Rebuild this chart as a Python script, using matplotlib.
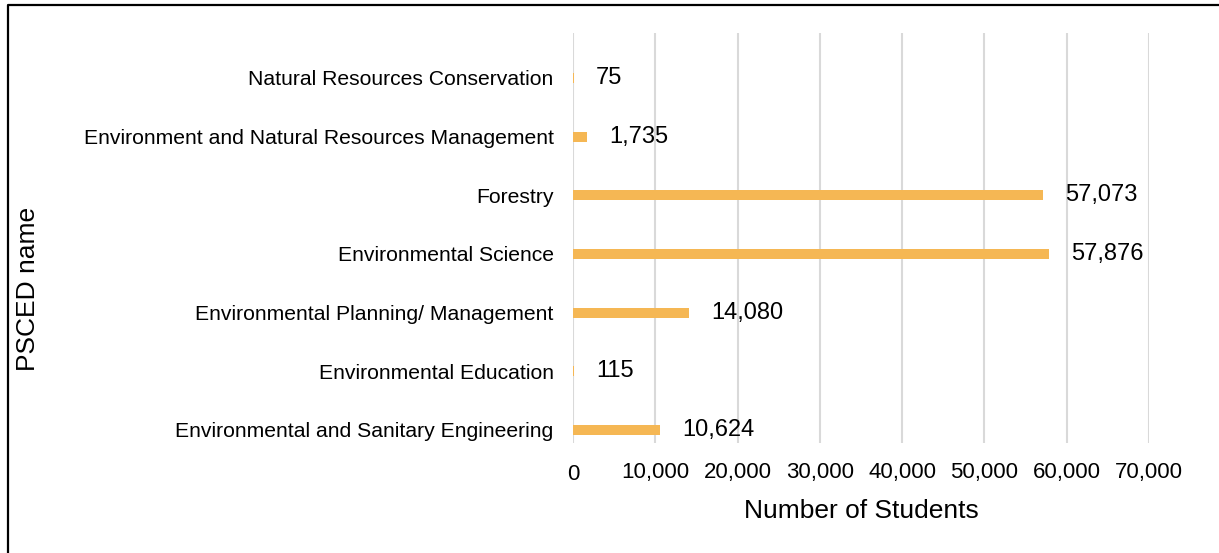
import matplotlib
matplotlib.use("Agg")
import matplotlib.pyplot as plt
from matplotlib.lines import Line2D
from matplotlib.transforms import offset_copy

plt.rcParams['font.family'] = ['Liberation Sans', 'DejaVu Sans']

categories = [
    "Environmental and Sanitary Engineering",
    "Environmental Education",
    "Environmental Planning/ Management",
    "Environmental Science",
    "Forestry",
    "Environment and Natural Resources Management",
    "Natural Resources Conservation",
]
values = [10624, 115, 14080, 57876, 57073, 1735, 75]
xticks = [0, 10000, 20000, 30000, 40000, 50000, 60000, 70000]
xtick_labels = ["0", "10,000", "20,000", "30,000", "40,000", "50,000", "60,000", "70,000"]
bar_color = "#F5B754"
grid_color = "#D9D9D9"

W, H = 1219, 553
fig = plt.figure(figsize=(W / 100, H / 100), dpi=100)
ax = fig.add_axes([573 / W, (H - 443) / H, 576 / W, 410 / H])

y = list(range(len(categories)))
ax.barh(y, values, height=0.17, color=bar_color, zorder=3)

ax.set_xlim(0, 70000)
ax.set_ylim(-0.222, 6.767)
ax.set_xticks(xticks)
ax.set_xticklabels([])
ax.tick_params(axis='x', length=0)
ax.tick_params(axis='y', length=0, pad=14, labelsize=15.2)
ax.set_yticks(y)
ax.set_yticklabels(categories)
ax.grid(axis='x', color=grid_color, linewidth=1.5, zorder=0)
for s in ['top', 'right', 'bottom', 'left']:
    ax.spines[s].set_visible(False)

# x tick labels
xtr = ax.get_xaxis_transform()
for xv, lab in zip(xticks, xtick_labels):
    yy = -0.078 if xv == 0 else -0.071
    ax.text(xv, yy, lab, transform=xtr, ha='center', va='center', fontsize=16)

# data labels
for yi, v in zip(y, values):
    t = offset_copy(ax.transData, fig=fig, x=22, y=0, units='dots')
    ax.text(v, yi, f"{v:,}", transform=t, ha='left', va='center', fontsize=17)

ax.set_xlabel("Number of Students", fontsize=19, labelpad=0)
ax.xaxis.set_label_coords(0.5, (443 - 499) / 410)
fig.text(28 / W, 1 - 289 / H, "PSCED name", rotation=90, ha='center', va='center', fontsize=19)

# border (top and left)
fig.add_artist(Line2D([8 / W, 8 / W, 1.0], [0.0, 1 - 5 / H, 1 - 5 / H],
                      transform=fig.transFigure, color='black', linewidth=1.6))

fig.savefig("out.png", dpi=100)
